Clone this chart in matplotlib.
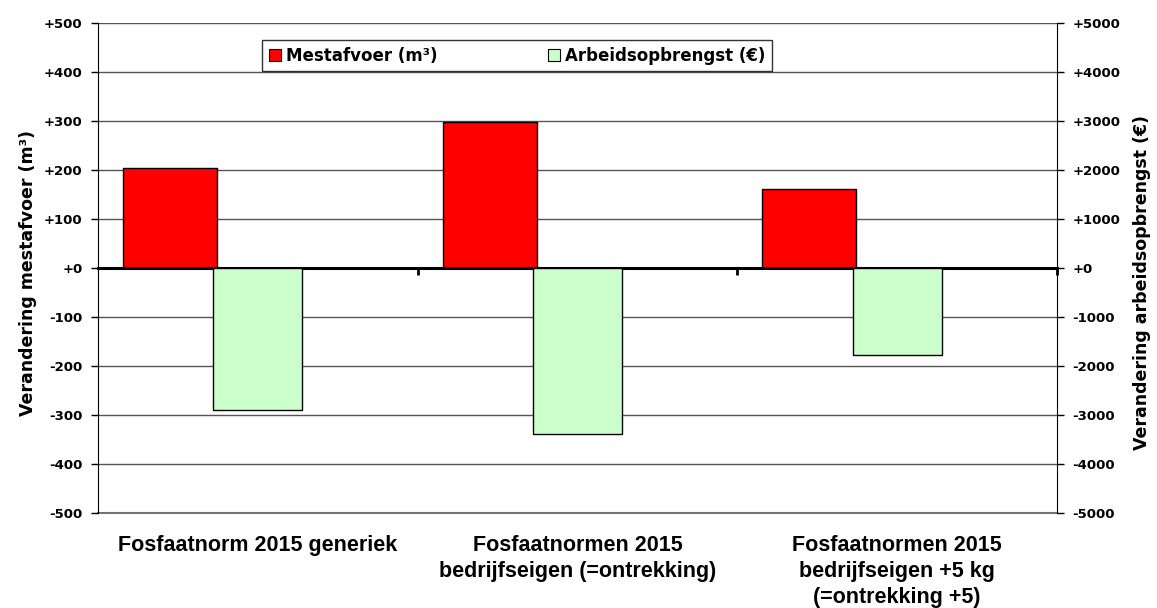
import matplotlib
matplotlib.use("Agg")
import matplotlib.pyplot as plt
from matplotlib.patches import Patch
from matplotlib.ticker import FuncFormatter, MultipleLocator
import numpy as np

categories = ["Fosfaatnorm 2015 generiek",
              "Fosfaatnormen 2015\nbedrijfseigen (=ontrekking)",
              "Fosfaatnormen 2015\nbedrijfseigen +5 kg\n(=ontrekking +5)"]
mestafvoer = [205, 297, 162]              # m³ (left axis)
arbeidsopbrengst = [-2890, -3380, -1780]  # € (right axis)
series_names = ["Mestafvoer (m³)", "Arbeidsopbrengst (€)"]

plt.rcParams['font.family'] = ['DejaVu Sans']
plt.rcParams['font.weight'] = 'bold'

fig = plt.figure(figsize=(11.57, 6.08), dpi=100)
ax = fig.add_axes([98/1157, 95/608, 959/1157, 490/608])
ax2 = ax.twinx()

x = np.arange(len(categories))
ax.bar(x - 0.275, mestafvoer, width=0.294, color='#ff0000', edgecolor='black', linewidth=1, zorder=3)
ax2.bar(x, arbeidsopbrengst, width=0.278, color='#ccffcc', edgecolor='black', linewidth=1, zorder=3)

ax.set_xlim(-0.5, 2.5)
ax.set_ylim(-500, 500)
ax2.set_ylim(-5000, 5000)

fmt = FuncFormatter(lambda v, p: f"{int(round(v)):+d}")
ax.yaxis.set_major_locator(MultipleLocator(100))
ax.yaxis.set_major_formatter(fmt)
ax2.yaxis.set_major_locator(MultipleLocator(1000))
ax2.yaxis.set_major_formatter(fmt)

ax.yaxis.grid(True, color='#555555', linewidth=1, zorder=0)
ax.set_axisbelow(True)

# spines
ax.spines['bottom'].set_position(('data', 0))
ax.spines['bottom'].set_linewidth(2.2)
ax.spines['bottom'].set_color('black')
ax.spines['bottom'].set_zorder(5)
ax.spines['top'].set_visible(False)
ax2.spines['top'].set_visible(False)
ax2.spines['bottom'].set_visible(False)
ax.spines['left'].set_color('black')
ax2.spines['right'].set_color('black')
ax2.spines['left'].set_visible(False)
ax.spines['right'].set_visible(False)
ax.axhline(-500, color='#777777', linewidth=1.5, zorder=0, clip_on=False)

ax.set_xticks([0.5, 1.5, 2.5])
ax.set_xticklabels([])
ax.tick_params(axis='x', direction='out', length=5, width=2, color='black')
ax.tick_params(axis='y', direction='out', length=5, width=1, labelsize=9.5, pad=6)
ax2.tick_params(axis='y', direction='out', length=5, width=1, labelsize=9.5, pad=6)
ax2.tick_params(axis='x', length=0)

for i, c in enumerate(categories):
    ax.text(i, -0.045, c, transform=ax.get_xaxis_transform(),
            ha='center', va='top', fontsize=15.5, fontweight='bold',
            family=['Liberation Sans'], linespacing=1.3)

ax.set_ylabel("Verandering mestafvoer (m³)", fontsize=12.5, fontweight='bold')
ax2.set_ylabel("Verandering arbeidsopbrengst (€)", fontsize=12.5, fontweight='bold')
ax.yaxis.set_label_coords(-0.0636, 0.49)
ax2.yaxis.set_label_coords(1.079, 0.47)

handles = [Patch(facecolor='#ff0000', edgecolor='black', linewidth=0.8),
           Patch(facecolor='#ccffcc', edgecolor='black', linewidth=0.8)]
leg = ax2.legend(handles, series_names, ncol=2,
                 loc='upper left', bbox_to_anchor=((262-98)/959, (513-40)/490),
                 fontsize=12, frameon=True, fancybox=False, edgecolor='black',
                 handlelength=0.75, handleheight=0.75, handletextpad=0.3,
                 borderpad=0.4, borderaxespad=0, columnspacing=6.6)
leg.get_frame().set_linewidth(1)
for t in leg.get_texts():
    t.set_fontweight('bold')
leg.set_zorder(10)

fig.savefig("out.png", dpi=100)
